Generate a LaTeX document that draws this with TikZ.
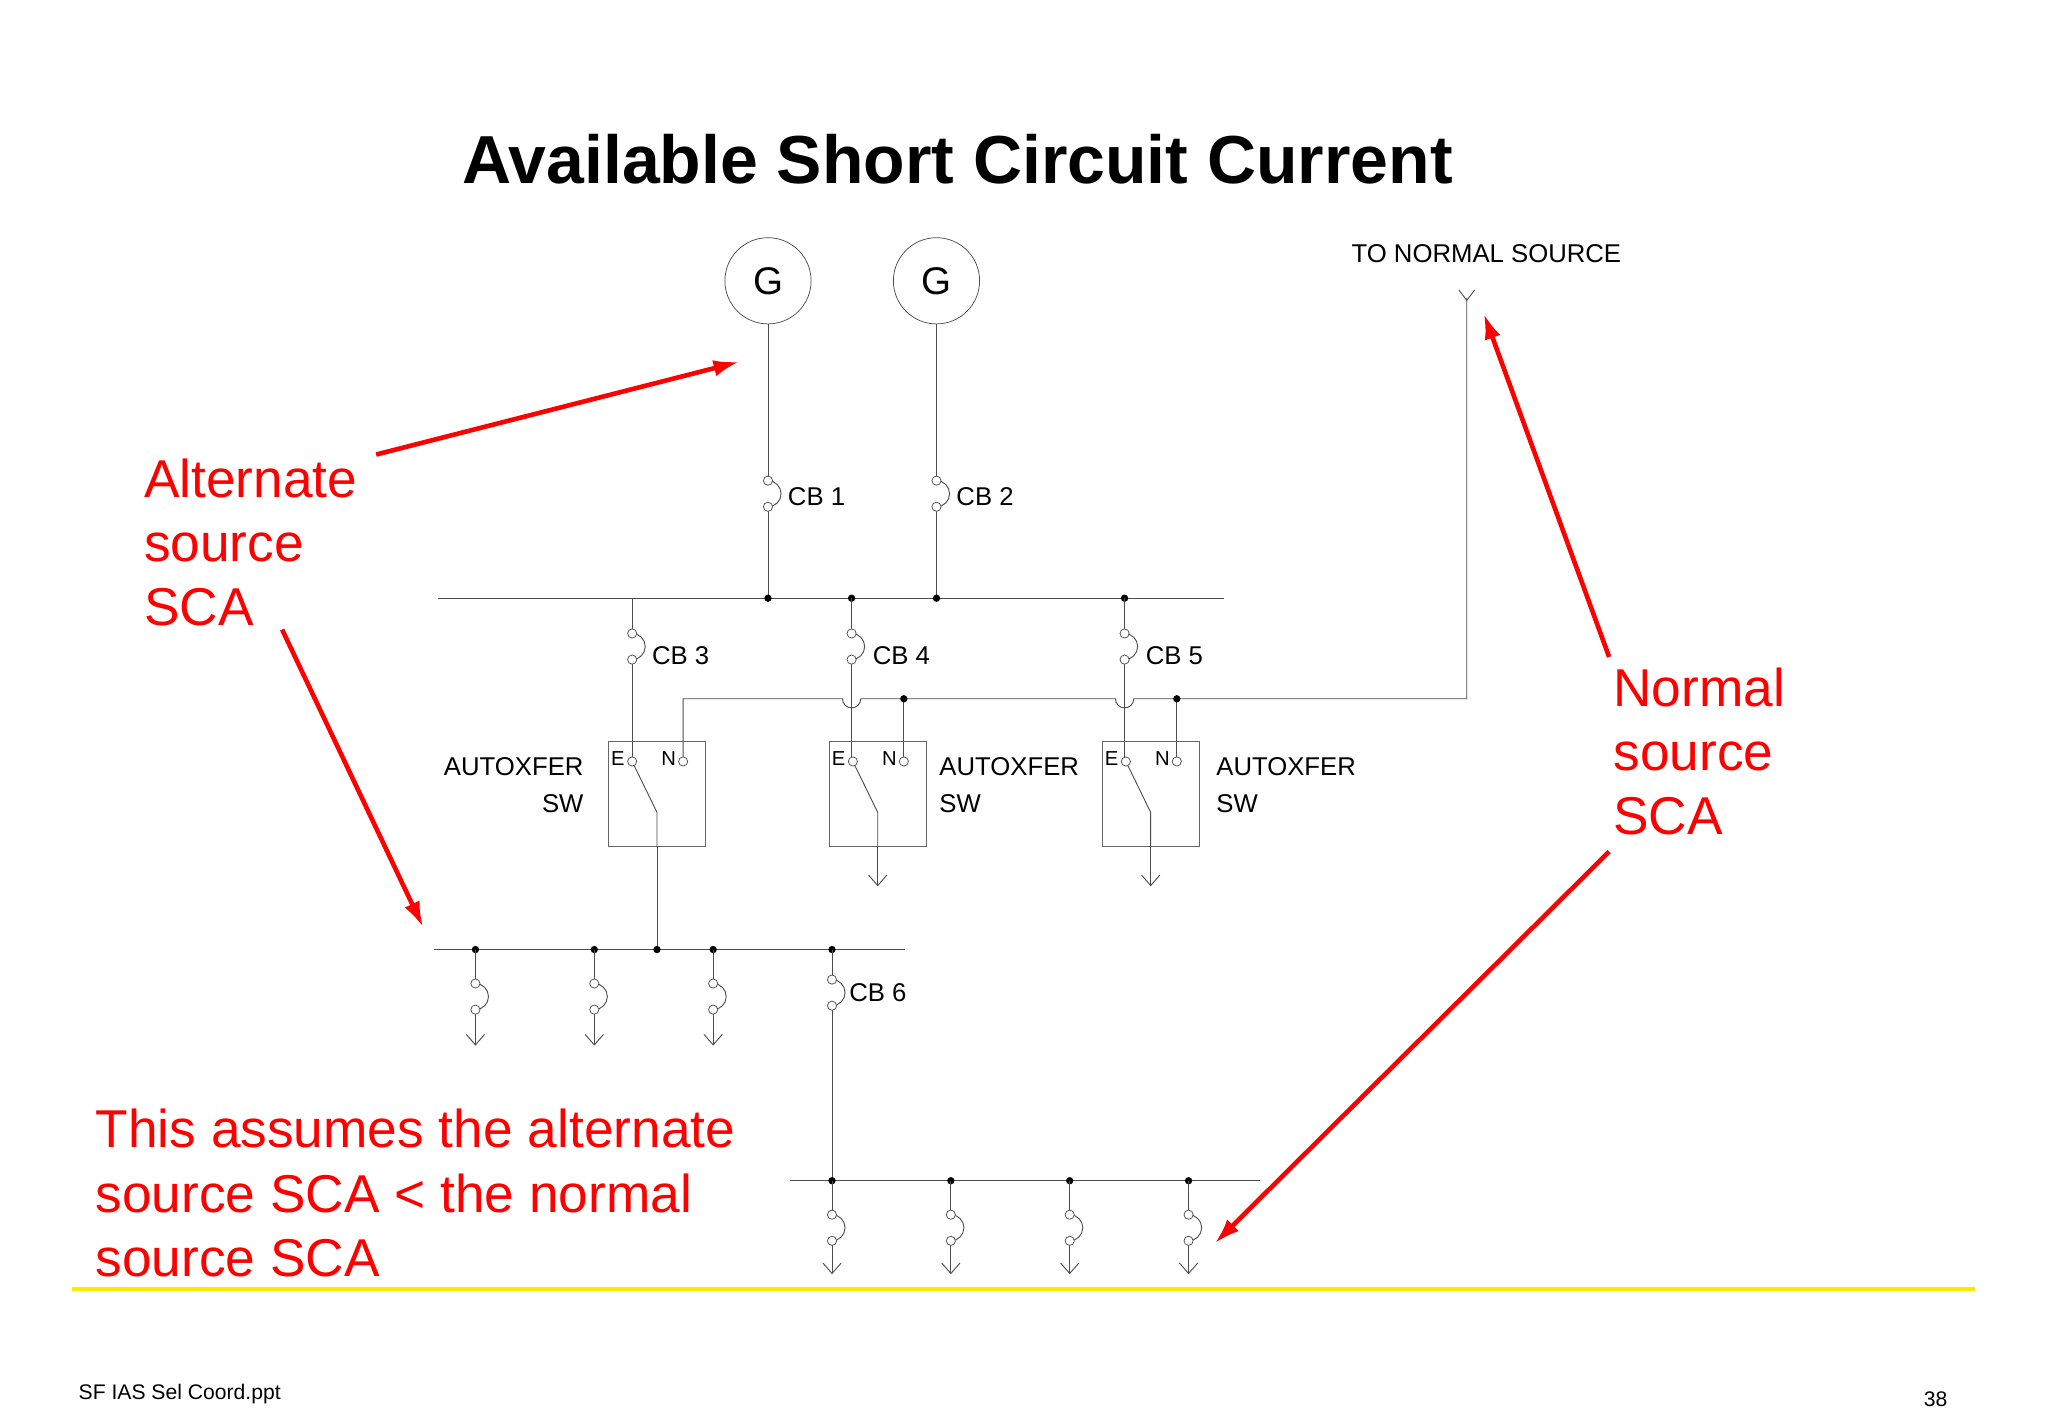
\documentclass[tikz,border=0pt]{standalone}
\usepackage{fontspec}
\setmainfont{Liberation Sans}
\begin{document}
\begin{tikzpicture}[x=0.025cm,y=-0.025cm,
  wire/.style={draw=black!70,line width=0.5pt},
  red/.style={draw=red,line width=2.5pt,-{Latex[length=14pt,width=9pt]}},
  lbl/.style={font=\fontsize{14}{16}\selectfont,inner sep=0pt},
  rtxt/.style={font=\fontsize{29}{35}\selectfont,text=red,inner sep=0pt,align=left},
  dot/.style={circle,fill=black,inner sep=0pt,minimum size=4pt},
  ring/.style={circle,draw=black!70,fill=white,inner sep=0pt,minimum size=5pt,line width=0.4pt},
  box/.style={draw=black!60,line width=0.5pt}]
\usetikzlibrary{arrows.meta}
\fill[white] (0,0) rectangle (1568,1084);
\useasboundingbox (0,0) rectangle (1568,1084);
\newcommand{\brk}[2]{%
  \fill[white] (#1-1,#2-9) rectangle (#1+1,#2+9);
  \draw[wire] (#1,#2-10) arc[start angle=-90,end angle=90,radius=10];
  \node[ring] at (#1,#2-10) {}; \node[ring] at (#1,#2+10) {};}
\newcommand{\darrow}[2]{\draw[wire] (#1-7,#2-8) -- (#1,#2) -- (#1+7,#2-8);}
\node[font=\bfseries\fontsize{37}{40}\selectfont,inner sep=0pt] (title) at (733,122) {Available Short Circuit Current};
\node[lbl] (tns) at (1138,194) {TO NORMAL SOURCE};
\node[circle,draw=black!70,inner sep=0pt,minimum size=1.65cm,font=\fontsize{21}{24}\selectfont] (g1) at (588,215) {G};
\node[circle,draw=black!70,inner sep=0pt,minimum size=1.65cm,font=\fontsize{21}{24}\selectfont] (g2) at (717,215) {G};
\draw[wire] (g1.south) -- (588,458);
\draw[wire] (g2.south) -- (717,458);
\brk{588}{378}\brk{717}{378}
\node[lbl,anchor=west] (cb1) at (603,380) {CB 1};
\node[lbl,anchor=west] (cb2) at (732,380) {CB 2};
\draw[wire] (335,458) -- (937,458);
\foreach \x in {588,652,717,861} \node[dot] at (\x,458) {};
\draw[wire] (484,458) -- (484,583);
\draw[wire] (652,458) -- (652,583);
\draw[wire] (861,458) -- (861,583);
\brk{484}{495}\brk{652}{495}\brk{861}{495}
\node[lbl,anchor=west] (cb3) at (499,502) {CB 3};
\node[lbl,anchor=west] (cb4) at (668,502) {CB 4};
\node[lbl,anchor=west] (cb5) at (877,502) {CB 5};
\draw[wire] (523,583) -- (523,535) -- (645,535) arc[start angle=180,end angle=0,radius=7] -- (854,535) arc[start angle=180,end angle=0,radius=7] -- (1123,535) -- (1123,228);
\draw[wire] (1117,222) -- (1123,230) -- (1129,222);
\draw[wire] (692,535) -- (692,583);
\draw[wire] (901,535) -- (901,583);
\node[dot] at (692,535) {}; \node[dot] at (901,535) {};
\foreach \bx/\nm in {466/b1,635/b2,844/b3}{
  \draw[box] (\bx,568) rectangle (\bx+74,648);
  \draw[wire] (\bx+18,583) -- (\bx+37,622) -- (\bx+37,648);
  \node[ring] at (\bx+18,583) {};
  \node[ring] at (\bx+57,583) {};
  \node[lbl,font=\fontsize{11}{13}\selectfont] at (\bx+7,581) {E};
  \node[lbl,font=\fontsize{11}{13}\selectfont] at (\bx+46,581) {N};
}
\draw[wire] (503,648) -- (503,727);
\draw[wire] (672,648) -- (672,678); \darrow{672}{678}
\draw[wire] (881,648) -- (881,678); \darrow{881}{678}
\node[lbl,align=right,anchor=east] (ax1) at (447,601) {AUTOXFER\\[4pt]SW};
\node[lbl,align=left,anchor=west] (ax2) at (719,601) {AUTOXFER\\[4pt]SW};
\node[lbl,align=left,anchor=west] (ax3) at (931,601) {AUTOXFER\\[4pt]SW};
\draw[wire] (332,727) -- (693,727);
\foreach \x in {364,455,503,546,637} \node[dot] at (\x,727) {};
\foreach \x in {364,455,546}{\draw[wire] (\x,727) -- (\x,800); \brk{\x}{763}\darrow{\x}{800}}
\draw[wire] (637,727) -- (637,904); \brk{637}{760}
\node[lbl,anchor=west] (cb6) at (650,760) {CB 6};
\draw[wire] (605,904) -- (965,904);
\foreach \x in {637,728,819,910}{\node[dot] at (\x,904) {}; \draw[wire] (\x,904) -- (\x,975); \brk{\x}{940}\darrow{\x}{975}}
\node[rtxt,anchor=north west] (alt) at (110,351) {Alternate\\source\\SCA};
\node[rtxt,anchor=north west] (nor) at (1235,511) {Normal\\source\\SCA};
\node[rtxt,anchor=north west] (ass) at (73,849) {This assumes the alternate\\source SCA < the normal\\source SCA};
\draw[red] (288,348) -- (566,277);
\draw[red] (216,482) -- (324,710);
\draw[red] (1232,503) -- (1136,240);
\draw[red] (1232,652) -- (930,952);
\draw[yellow!90!orange,line width=2.2pt] (55,987) -- (1512,987);
\node[inner sep=0pt,font=\fontsize{11.5}{13}\selectfont,anchor=west] (ft) at (60,1067) {SF IAS Sel Coord.ppt};
\node[inner sep=0pt,font=\fontsize{11.5}{13}\selectfont] (pg) at (1482,1071) {38};
\end{tikzpicture}
\end{document}
